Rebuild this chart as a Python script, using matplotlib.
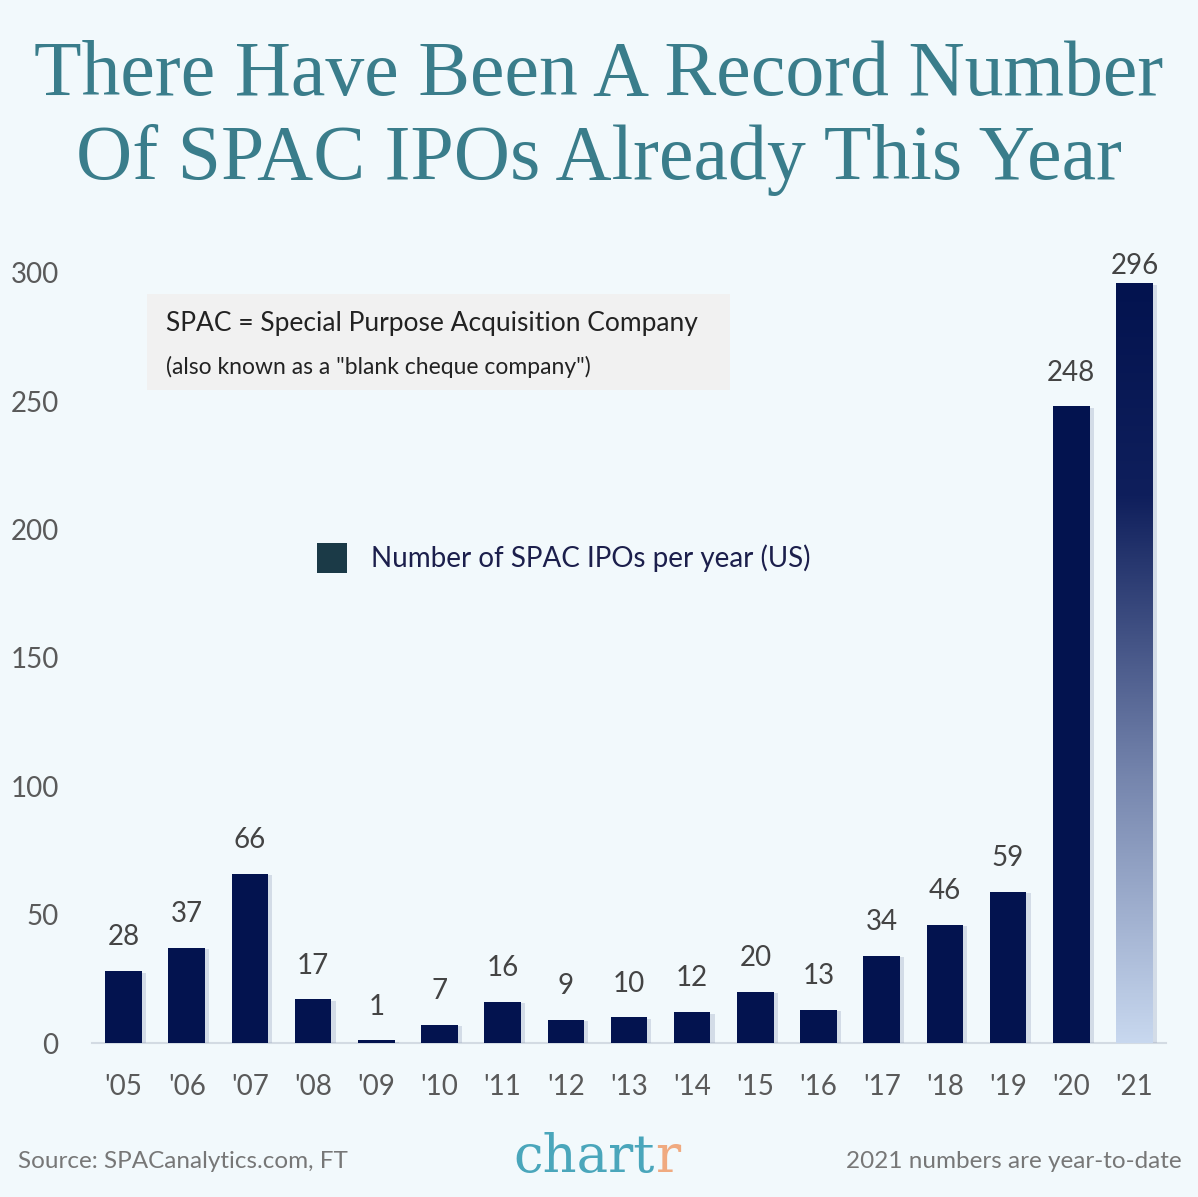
import numpy as np
import matplotlib
matplotlib.use("Agg")
import matplotlib.pyplot as plt
from matplotlib.colors import LinearSegmentedColormap
from matplotlib.patches import Rectangle
import matplotlib.patheffects as pe

#chart data
years = ["'05", "'06", "'07", "'08", "'09", "'10", "'11", "'12", "'13",
         "'14", "'15", "'16", "'17", "'18", "'19", "'20", "'21"]
spac_ipos = [28, 37, 66, 17, 1, 7, 16, 9, 10, 12, 20, 13, 34, 46, 59, 248, 296]
y_ticks = [0, 50, 100, 150, 200, 250, 300]

W, H = 1198, 1197
bg = "#f2f9fc"
navy = "#03134f"
sans = ["Lato", "DejaVu Sans"]

fig = plt.figure(figsize=(W / 100, H / 100), dpi=100, facecolor=bg)

#main axes, placed in pixel terms of the reference
ax = fig.add_axes([92 / W, 1 - 1043 / H, 1074 / W, 770 / H], facecolor=bg)
x = np.arange(len(years))
shadow = [pe.SimplePatchShadow(offset=(3, -1), shadow_rgbFace="#9aa6c0", alpha=0.35), pe.Normal()]
bars = ax.bar(x, spac_ipos, width=0.58, color=navy, zorder=3)
for b in bars:
    b.set_path_effects(shadow)

#2021 bar fades towards the bottom (year-to-date)
last = bars[-1]
cmap = LinearSegmentedColormap.from_list("fade", [(0, "#c8d8ef"), (0.35, "#7585ad"), (0.72, "#0f1f5c"), (1, navy)])
grad = np.linspace(0, 1, 256).reshape(-1, 1)
im = ax.imshow(grad, cmap=cmap, origin="lower", aspect="auto", zorder=4,
               extent=[last.get_x(), last.get_x() + last.get_width(), 0, last.get_height()])
im.set_clip_path(last)

#value labels sit well above the bars, except the tallest one which is squeezed by the top
for xi, v in zip(x, spac_ipos):
    off = 3 if v == max(spac_ipos) else 15
    ax.annotate(str(v), (xi, v), xytext=(0, off), textcoords="offset points",
                ha="center", va="bottom", fontsize=20, color="#444444", family=sans)

ax.set_xlim(-0.5, len(years) - 0.5)
ax.set_ylim(0, 300)
ax.set_xticks(x)
ax.set_xticklabels(years, fontsize=20, color="#5a5a5a", family=sans)
ax.set_yticks(y_ticks)
ax.set_yticklabels([str(t) for t in y_ticks], fontsize=20, color="#5a5a5a", family=sans)
ax.tick_params(axis="x", length=0, pad=22)
ax.tick_params(axis="y", length=0, pad=24)
for s in ["top", "right", "left"]:
    ax.spines[s].set_visible(False)
ax.spines["bottom"].set_color("#d3dbe3")
ax.spines["bottom"].set_linewidth(1.5)
ax.spines["bottom"].set_zorder(2)

#title
fig.text(0.5, 1 - 76 / H, "There Have Been A Record Number", ha="center", va="center",
         fontsize=56, color="#3a7d8b", family="Liberation Serif")
fig.text(0.5, 1 - 160 / H, "Of SPAC IPOs Already This Year", ha="center", va="center",
         fontsize=56, color="#3a7d8b", family="Liberation Serif")

#definition box
fig.patches.append(Rectangle((147 / W, 1 - 390 / H), (730 - 147) / W, 96 / H,
                             transform=fig.transFigure, facecolor="#f1f1f1", edgecolor="none"))
fig.text(166 / W, 1 - 324 / H, "SPAC = Special Purpose Acquisition Company", ha="left", va="center",
         fontsize=19, color="#222222", family=sans)
fig.text(166 / W, 1 - 367 / H, "(also known as a \"blank cheque company\")", ha="left", va="center",
         fontsize=16.5, color="#222222", family=sans)

#legend
fig.patches.append(Rectangle((317 / W, 1 - 573 / H), 30 / W, 30 / H,
                             transform=fig.transFigure, facecolor="#1b3a47", edgecolor="none"))
fig.text(371 / W, 1 - 558 / H, "Number of SPAC IPOs per year (US)", ha="left", va="center",
         fontsize=20, color="#1c1f4c", family=sans)

#footer
fig.text(18 / W, 1 - 1162 / H, "Source: SPACanalytics.com, FT", ha="left", va="center",
         fontsize=17.5, color="#777777", family=sans)
fig.text(1182 / W, 1 - 1162 / H, "2021 numbers are year-to-date", ha="right", va="center",
         fontsize=17.5, color="#777777", family=sans)
fig.text(655 / W, 1 - 1172 / H, "chart", ha="right", va="baseline",
         fontsize=38, color="#4aa6bb", family="DejaVu Serif")
fig.text(655 / W, 1 - 1172 / H, "r", ha="left", va="baseline",
         fontsize=38, color="#f0aa80", family="DejaVu Serif")

fig.savefig("out.png", dpi=100, facecolor=bg)
